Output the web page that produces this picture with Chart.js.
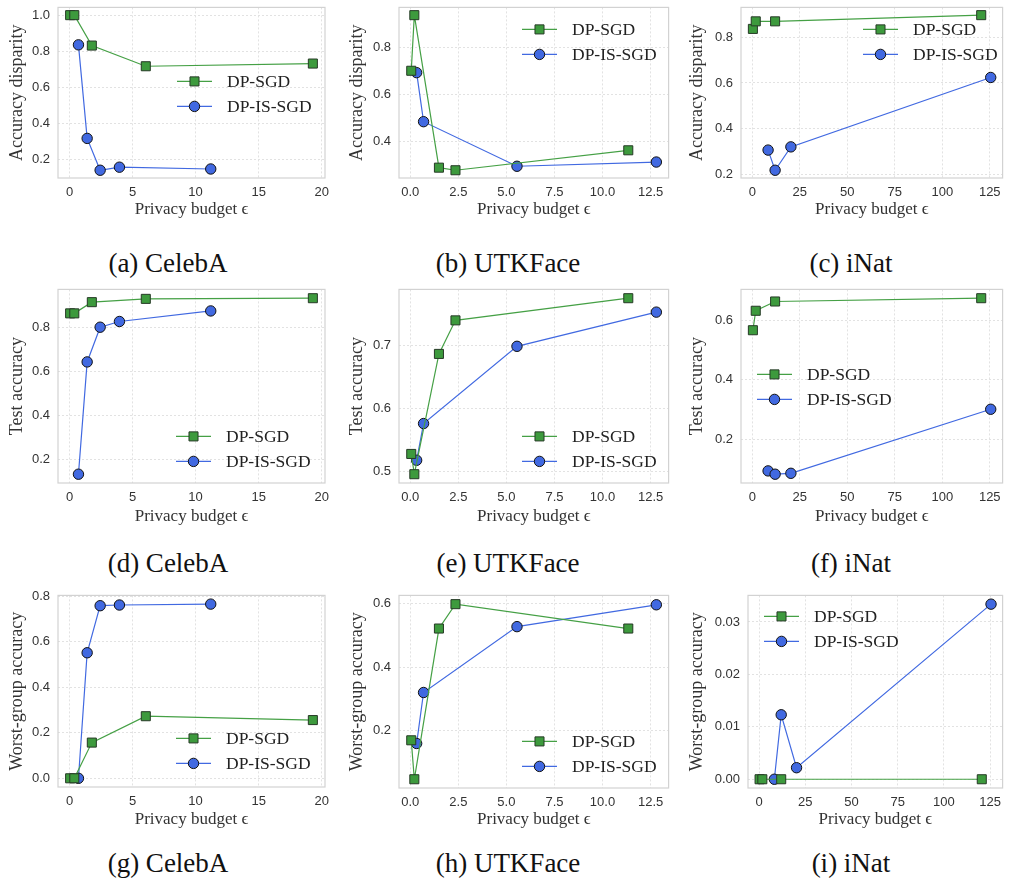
<!DOCTYPE html>
<html>
<head>
<meta charset="utf-8">
<script src="https://cdn.jsdelivr.net/npm/chart.js@4.4.0/dist/chart.umd.min.js"></script>
<style>
  body { margin: 0; background: #fff; width: 1010px; height: 886px; position: relative; overflow: hidden; }
  .cell { position: absolute; }
  .cap { position: absolute; font-family: "Liberation Serif", serif; font-size: 27px; color: #111;
         transform: translate(-50%, -50%); white-space: nowrap; }
</style>
</head>
<body>
<script>
// ---- privacy budgets (epsilon) per dataset ----
const celebaEpsSgd = [0.05, 0.38, 1.77, 6.05, 19.3];
const celebaEpsIs  = [0.71, 1.40, 2.43, 3.96, 11.2];
const utkEpsSgd    = [0.05, 0.21, 1.49, 2.35, 11.34];
const utkEpsIs     = [0.33, 0.69, 5.55, 12.8];
const inatEpsSgd   = [0.3, 1.8, 12.0, 120.5];
const inatEpsIs    = [8.3, 12.0, 20.3, 125.5];

// ---- accuracy disparity ----
const celebaDispSgd = [1.0, 1.0, 0.831, 0.716, 0.731];
const celebaDispIs  = [0.835, 0.315, 0.138, 0.155, 0.145];
const utkDispSgd    = [0.701, 0.938, 0.288, 0.277, 0.362];
const utkDispIs     = [0.693, 0.484, 0.294, 0.312];
const inatDispSgd   = [0.836, 0.869, 0.869, 0.896];
const inatDispIs    = [0.307, 0.219, 0.321, 0.624];

// ---- test accuracy ----
const celebaAccSgd = [0.866, 0.866, 0.917, 0.932, 0.935];
const celebaAccIs  = [0.134, 0.645, 0.803, 0.829, 0.877];
const utkAccSgd    = [0.528, 0.496, 0.686, 0.739, 0.774];
const utkAccIs     = [0.518, 0.576, 0.698, 0.752];
const inatAccSgd   = [0.566, 0.631, 0.662, 0.673];
const inatAccIs    = [0.096, 0.085, 0.088, 0.302];

// ---- worst-group accuracy ----
const celebaWorstSgd = [0.0, 0.0, 0.157, 0.273, 0.256];
const celebaWorstIs  = [0.0, 0.552, 0.759, 0.762, 0.766];
const utkWorstSgd    = [0.169, 0.046, 0.522, 0.599, 0.522];
const utkWorstIs     = [0.159, 0.320, 0.528, 0.597];
const inatWorstSgd   = [0.0, 0.0, 0.0, 0.0];
const inatWorstIs    = [0.0, 0.0123, 0.0022, 0.0334];

// ---- tick labels ----
const celebaXTicks = [0, 5, 10, 15, 20];
const utkXTicks    = [0, 2.5, 5, 7.5, 10, 12.5];
const inatXTicks   = [0, 25, 50, 75, 100, 125];
const celebaDispYTicks = [0.2, 0.4, 0.6, 0.8, 1.0];
const utkDispYTicks    = [0.4, 0.6, 0.8];
const inatDispYTicks   = [0.2, 0.4, 0.6, 0.8];
const celebaAccYTicks  = [0.2, 0.4, 0.6, 0.8];
const utkAccYTicks     = [0.5, 0.6, 0.7];
const inatAccYTicks    = [0.2, 0.4, 0.6];
const celebaWorstYTicks = [0.0, 0.2, 0.4, 0.6, 0.8];
const utkWorstYTicks    = [0.2, 0.4, 0.6];
const inatWorstYTicks   = [0.00, 0.01, 0.02, 0.03];

const seriesNames = ["DP-SGD", "DP-IS-SGD"];
const xTitle = "Privacy budget \u03F5";

const panels = [
  { cap: "(a) CelebA",  yTitle: "Accuracy disparity", eps: [celebaEpsSgd, celebaEpsIs], vals: [celebaDispSgd, celebaDispIs], xt: celebaXTicks, xd: 0, yt: celebaDispYTicks, yd: 1 },
  { cap: "(b) UTKFace", yTitle: "Accuracy disparity", eps: [utkEpsSgd, utkEpsIs],       vals: [utkDispSgd, utkDispIs],       xt: utkXTicks,    xd: 1, yt: utkDispYTicks,    yd: 1 },
  { cap: "(c) iNat",    yTitle: "Accuracy disparity", eps: [inatEpsSgd, inatEpsIs],     vals: [inatDispSgd, inatDispIs],     xt: inatXTicks,   xd: 0, yt: inatDispYTicks,   yd: 1 },
  { cap: "(d) CelebA",  yTitle: "Test accuracy",      eps: [celebaEpsSgd, celebaEpsIs], vals: [celebaAccSgd, celebaAccIs],   xt: celebaXTicks, xd: 0, yt: celebaAccYTicks,  yd: 1 },
  { cap: "(e) UTKFace", yTitle: "Test accuracy",      eps: [utkEpsSgd, utkEpsIs],       vals: [utkAccSgd, utkAccIs],         xt: utkXTicks,    xd: 1, yt: utkAccYTicks,     yd: 1 },
  { cap: "(f) iNat",    yTitle: "Test accuracy",      eps: [inatEpsSgd, inatEpsIs],     vals: [inatAccSgd, inatAccIs],       xt: inatXTicks,   xd: 0, yt: inatAccYTicks,    yd: 1 },
  { cap: "(g) CelebA",  yTitle: "Worst-group accuracy", eps: [celebaEpsSgd, celebaEpsIs], vals: [celebaWorstSgd, celebaWorstIs], xt: celebaXTicks, xd: 0, yt: celebaWorstYTicks, yd: 1 },
  { cap: "(h) UTKFace", yTitle: "Worst-group accuracy", eps: [utkEpsSgd, utkEpsIs],       vals: [utkWorstSgd, utkWorstIs],       xt: utkXTicks,    xd: 1, yt: utkWorstYTicks,    yd: 1 },
  { cap: "(i) iNat",    yTitle: "Worst-group accuracy", eps: [inatEpsSgd, inatEpsIs],     vals: [inatWorstSgd, inatWorstIs],     xt: inatXTicks,   xd: 0, yt: inatWorstYTicks,   yd: 2 },
];

// page layout: canvas cells, plot frames, titles, legends, captions
const cols = [{ l: 0, r: 335, yTitleX: 17, capX: 168 }, { l: 340, r: 676, yTitleX: 357, capX: 508 }, { l: 680, r: 1010, yTitleX: 697, capX: 851 }];
const rows = [{ t: 0, b: 228, xTitleY: 210, capY: 263 }, { t: 282, b: 530, xTitleY: 517, capY: 563 }, { t: 588, b: 834, xTitleY: 820, capY: 863 }];
const frames = [
  { l: 58, t: 4, r: 325, b: 178 },   { l: 399, t: 4, r: 670, b: 178 },   { l: 741, t: 4, r: 1007, b: 178 },
  { l: 58, t: 287, r: 325, b: 483 }, { l: 399, t: 287, r: 670, b: 483 }, { l: 741, t: 287, r: 1007, b: 483 },
  { l: 58, t: 595, r: 325, b: 787 }, { l: 399, t: 593, r: 670, b: 788 }, { l: 748, t: 593, r: 1007, b: 788 },
];
// legend handle offset from the plot frame's top-left corner
const legendAt = [
  { dx: 119, dy: 74 }, { dx: 123, dy: 22 }, { dx: 122, dy: 22 },
  { dx: 118, dy: 147 }, { dx: 123, dy: 147 }, { dx: 16, dy: 85 },
  { dx: 118, dy: 143 }, { dx: 123, dy: 146 }, { dx: 16, dy: 21 },
];

const styles = [
  { line: "#45a045", fill: "#3d9a3d", edge: "#263a26", shape: "rect", radius: 6.4 },
  { line: "#4169e1", fill: "#4169e1", edge: "#111111", shape: "circle", radius: 5.2 },
];

const serif = "'Liberation Serif', 'Times New Roman', serif";
const sans = "'Liberation Sans', Arial, sans-serif";

// light frame round the plot area
const framePlugin = {
  id: "plotFrame",
  beforeDatasetsDraw(chart) {
    const { ctx, chartArea: a } = chart;
    ctx.save();
    ctx.strokeStyle = "#d2d2d2";
    ctx.lineWidth = 1.2;
    ctx.strokeRect(a.left, a.top, a.right - a.left, a.bottom - a.top);
    ctx.restore();
  }
};

function drawMarker(ctx, st, x, y) {
  ctx.fillStyle = st.fill;
  ctx.strokeStyle = st.edge;
  ctx.lineWidth = 1;
  ctx.beginPath();
  if (st.shape === "rect") {
    const h = st.radius * Math.SQRT1_2;
    ctx.rect(x - h, y - h, 2 * h, 2 * h);
  } else {
    ctx.arc(x, y, st.radius, 0, Math.PI * 2);
  }
  ctx.fill();
  ctx.stroke();
}

// legend entries drawn inside the axes: line + marker handle, then name
const legendPlugin = {
  id: "inAxesLegend",
  afterDatasetsDraw(chart, args, opts) {
    const { ctx, chartArea: a } = chart;
    const x0 = a.left + opts.dx;
    ctx.save();
    seriesNames.forEach((name, i) => {
      const y = a.top + opts.dy + i * 25;
      const st = styles[i];
      ctx.strokeStyle = st.line;
      ctx.lineWidth = 1.2;
      ctx.beginPath();
      ctx.moveTo(x0, y);
      ctx.lineTo(x0 + 35, y);
      ctx.stroke();
      drawMarker(ctx, st, x0 + 17.5, y);
      ctx.fillStyle = "#222";
      ctx.font = "17.5px " + serif;
      ctx.textBaseline = "middle";
      ctx.fillText(name, x0 + 50, y + 1);
    });
    ctx.restore();
  }
};

// matplotlib-style 5% margins around the data
function padRange(arrs) {
  const all = [].concat(...arrs);
  const lo = Math.min(...all), hi = Math.max(...all);
  const m = (hi - lo) * 0.05;
  return [lo - m, hi + m];
}

panels.forEach((p, k) => {
  const col = cols[k % 3], row = rows[Math.floor(k / 3)], f = frames[k];
  const div = document.createElement("div");
  div.className = "cell";
  div.style.left = col.l + "px";
  div.style.top = row.t + "px";
  div.style.width = (col.r - col.l) + "px";
  div.style.height = (row.b - row.t) + "px";
  const canvas = document.createElement("canvas");
  div.appendChild(canvas);
  document.body.appendChild(div);

  const cap = document.createElement("div");
  cap.className = "cap";
  cap.textContent = p.cap;
  cap.style.left = col.capX + "px";
  cap.style.top = row.capY + "px";
  document.body.appendChild(cap);

  const [xMin, xMax] = padRange(p.eps);
  const [yMin, yMax] = padRange(p.vals);
  const xTitleLH = 17 * 1.2;
  const yTitleLH = 18 * 1.2;

  const datasets = p.vals.map((vals, i) => ({
    label: seriesNames[i],
    data: vals.map((v, j) => ({ x: p.eps[i][j], y: v })),
    borderColor: styles[i].line,
    borderWidth: 1.2,
    backgroundColor: styles[i].fill,
    pointBackgroundColor: styles[i].fill,
    pointBorderColor: styles[i].edge,
    pointBorderWidth: 1,
    pointStyle: styles[i].shape,
    pointRadius: styles[i].radius,
    tension: 0,
    clip: false,
  }));

  new Chart(canvas, {
    type: "line",
    data: { datasets },
    options: {
      responsive: true,
      maintainAspectRatio: false,
      animation: false,
      events: [],
      layout: { padding: { top: f.t - row.t, right: col.r - f.r, left: 0, bottom: 0 } },
      plugins: {
        legend: { display: false },
        tooltip: { enabled: false },
        inAxesLegend: legendAt[k],
      },
      scales: {
        x: {
          type: "linear",
          min: xMin, max: xMax,
          afterBuildTicks: s => { s.ticks = p.xt.map(v => ({ value: v })); },
          afterFit: s => { s.height = row.b - f.b; s.paddingLeft = 0; s.paddingRight = 0; },
          ticks: { callback: v => v.toFixed(p.xd), font: { family: sans, size: 13 }, color: "#333", padding: 7, maxRotation: 0, autoSkip: false },
          grid: { color: "#e2e2e2", lineWidth: 1, drawTicks: false },
          border: { display: false, dash: [2, 2] },
          title: { display: true, text: xTitle, font: { family: serif, size: 17 }, color: "#333",
                   padding: { top: 0, bottom: row.b - row.xTitleY - xTitleLH / 2 } },
        },
        y: {
          type: "linear",
          min: yMin, max: yMax,
          afterBuildTicks: s => { s.ticks = p.yt.map(v => ({ value: v })); },
          afterFit: s => { s.width = f.l - col.l; s.paddingTop = 0; s.paddingBottom = 0; },
          ticks: { callback: v => v.toFixed(p.yd), font: { family: sans, size: 13 }, color: "#333", padding: 8, autoSkip: false },
          grid: { color: "#e2e2e2", lineWidth: 1, drawTicks: false },
          border: { display: false, dash: [2, 2] },
          title: { display: true, text: p.yTitle, font: { family: serif, size: 18 }, color: "#333",
                   padding: { top: col.yTitleX - col.l - yTitleLH / 2, bottom: 0 } },
        },
      },
    },
    plugins: [framePlugin, legendPlugin],
  });
});
</script>
</body>
</html>
